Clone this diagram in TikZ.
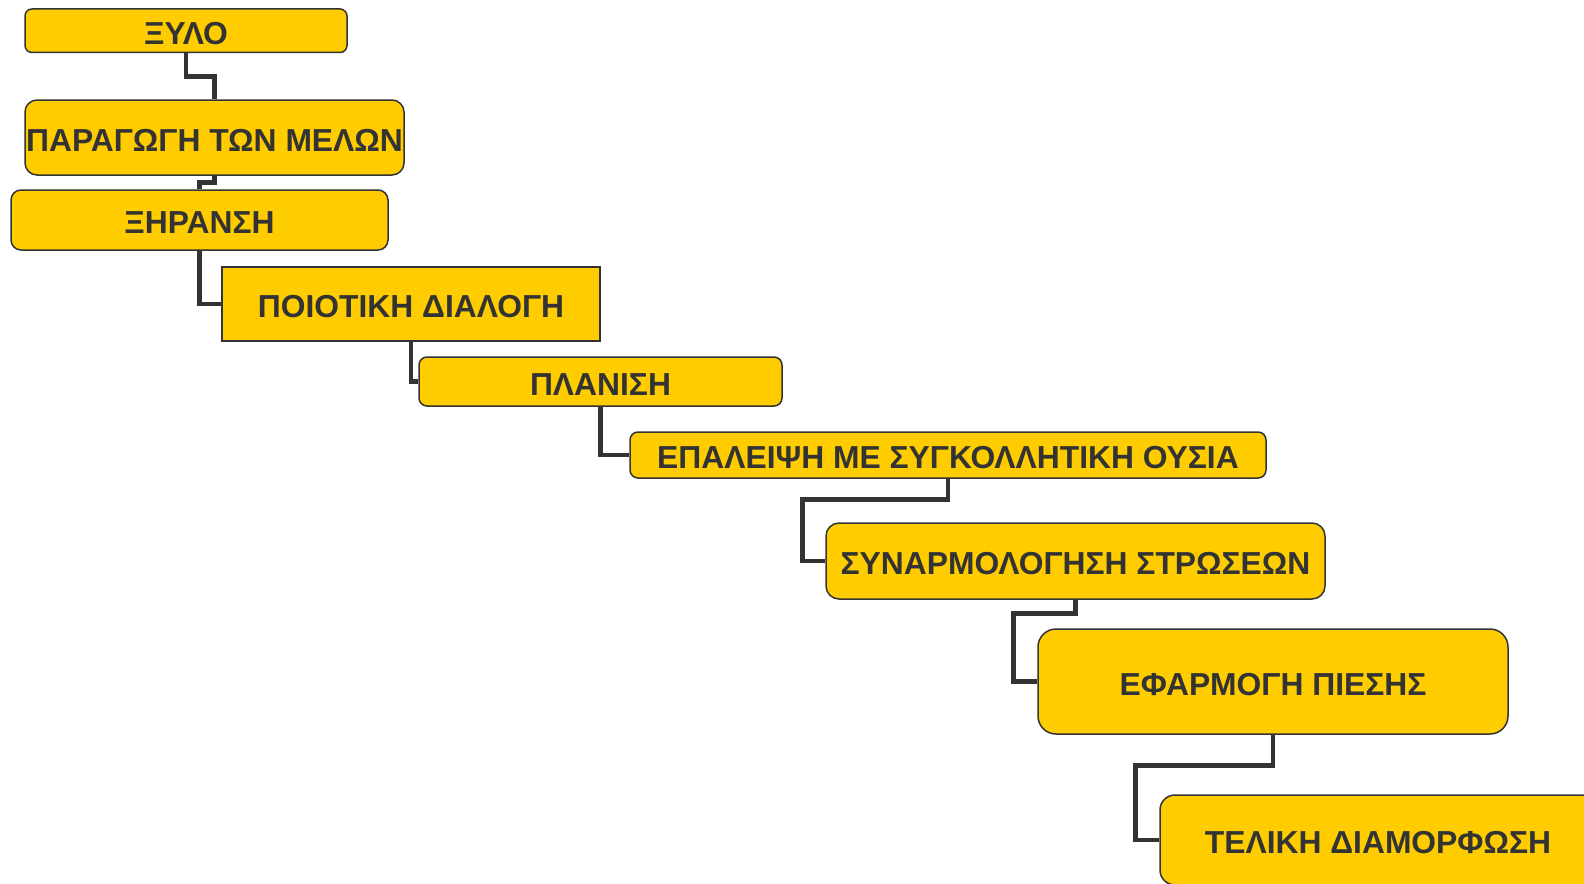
\documentclass[tikz,border=0pt]{standalone}
\usepackage{fontspec}
\setmainfont{Liberation Sans}
\usetikzlibrary{backgrounds}
\definecolor{boxfill}{HTML}{FFCC00}
\definecolor{ink}{HTML}{333333}
\tikzset{
  stage/.style={draw=ink, line width=1.5pt, fill=boxfill, text=ink,
    font=\fontsize{31.8}{37}\selectfont\bfseries, inner sep=0pt, anchor=center,
    text height=27pt, text depth=0pt},
  link/.style={draw=ink, line width=4.7pt},
}
\begin{document}
\begin{tikzpicture}[x=1pt,y=-1pt]
\useasboundingbox (0,0) rectangle (1584,883);
\clip (0,0) rectangle (1584,883);
\node[stage, rounded corners=7pt, minimum width=322pt, minimum height=43.5pt] (n1) at (186,30.75) {ΞΥΛΟ};
\node[stage, rounded corners=12pt, minimum width=379pt, minimum height=75pt] (n2) at (214.5,137.5) {ΠΑΡΑΓΩΓΗ ΤΩΝ ΜΕΛΩΝ};
\node[stage, rounded corners=10pt, minimum width=377pt, minimum height=60pt] (n3) at (199.5,220) {ΞΗΡΑΝΣΗ};
\node[stage, minimum width=378pt, minimum height=74pt] (n4) at (411,304) {ΠΟΙΟΤΙΚΗ ΔΙΑΛΟΓΗ};
\node[stage, rounded corners=8pt, minimum width=363pt, minimum height=49pt] (n5) at (600.5,381.5) {ΠΛΑΝΙΣΗ};
\node[stage, rounded corners=8pt, minimum width=636pt, minimum height=46pt] (n6) at (948,455) {ΕΠΑΛΕΙΨΗ ΜΕ ΣΥΓΚΟΛΛΗΤΙΚΗ ΟΥΣΙΑ};
\node[stage, rounded corners=13pt, minimum width=499pt, minimum height=76pt] (n7) at (1075.5,561) {ΣΥΝΑΡΜΟΛΟΓΗΣΗ ΣΤΡΩΣΕΩΝ};
\node[stage, rounded corners=18pt, minimum width=470pt, minimum height=105pt] (n8) at (1273,681.5) {ΕΦΑΡΜΟΓΗ ΠΙΕΣΗΣ};
\node[stage, rounded corners=15pt, minimum width=436pt, minimum height=90pt] (n9) at (1378,840) {ΤΕΛΙΚΗ ΔΙΑΜΟΡΦΩΣΗ};
\begin{scope}[on background layer]
  \fill[white] (0,0) rectangle (1584,883);
  \draw[link] (n1.south) -- ++(0,23.5) -| (n2.north);
  \draw[link] (n2.south) -- ++(0,7) -| (n3.north);
  \draw[link] (n3.south) |- (n4.west);
  \draw[link] (n4.south) |- (n5.west);
  \draw[link] (n5.south) |- (n6.west);
  \draw[link] (n6.south) -- ++(0,21) -| ([xshift=-23pt]n7.west) -- (n7.west);
  \draw[link] (n7.south) -- ++(0,14) -| ([xshift=-24pt]n8.west) -- (n8.west);
  \draw[link] (n8.south) -- ++(0,31) -| ([xshift=-24pt]n9.west) -- (n9.west);
\end{scope}
\end{tikzpicture}
\end{document}
